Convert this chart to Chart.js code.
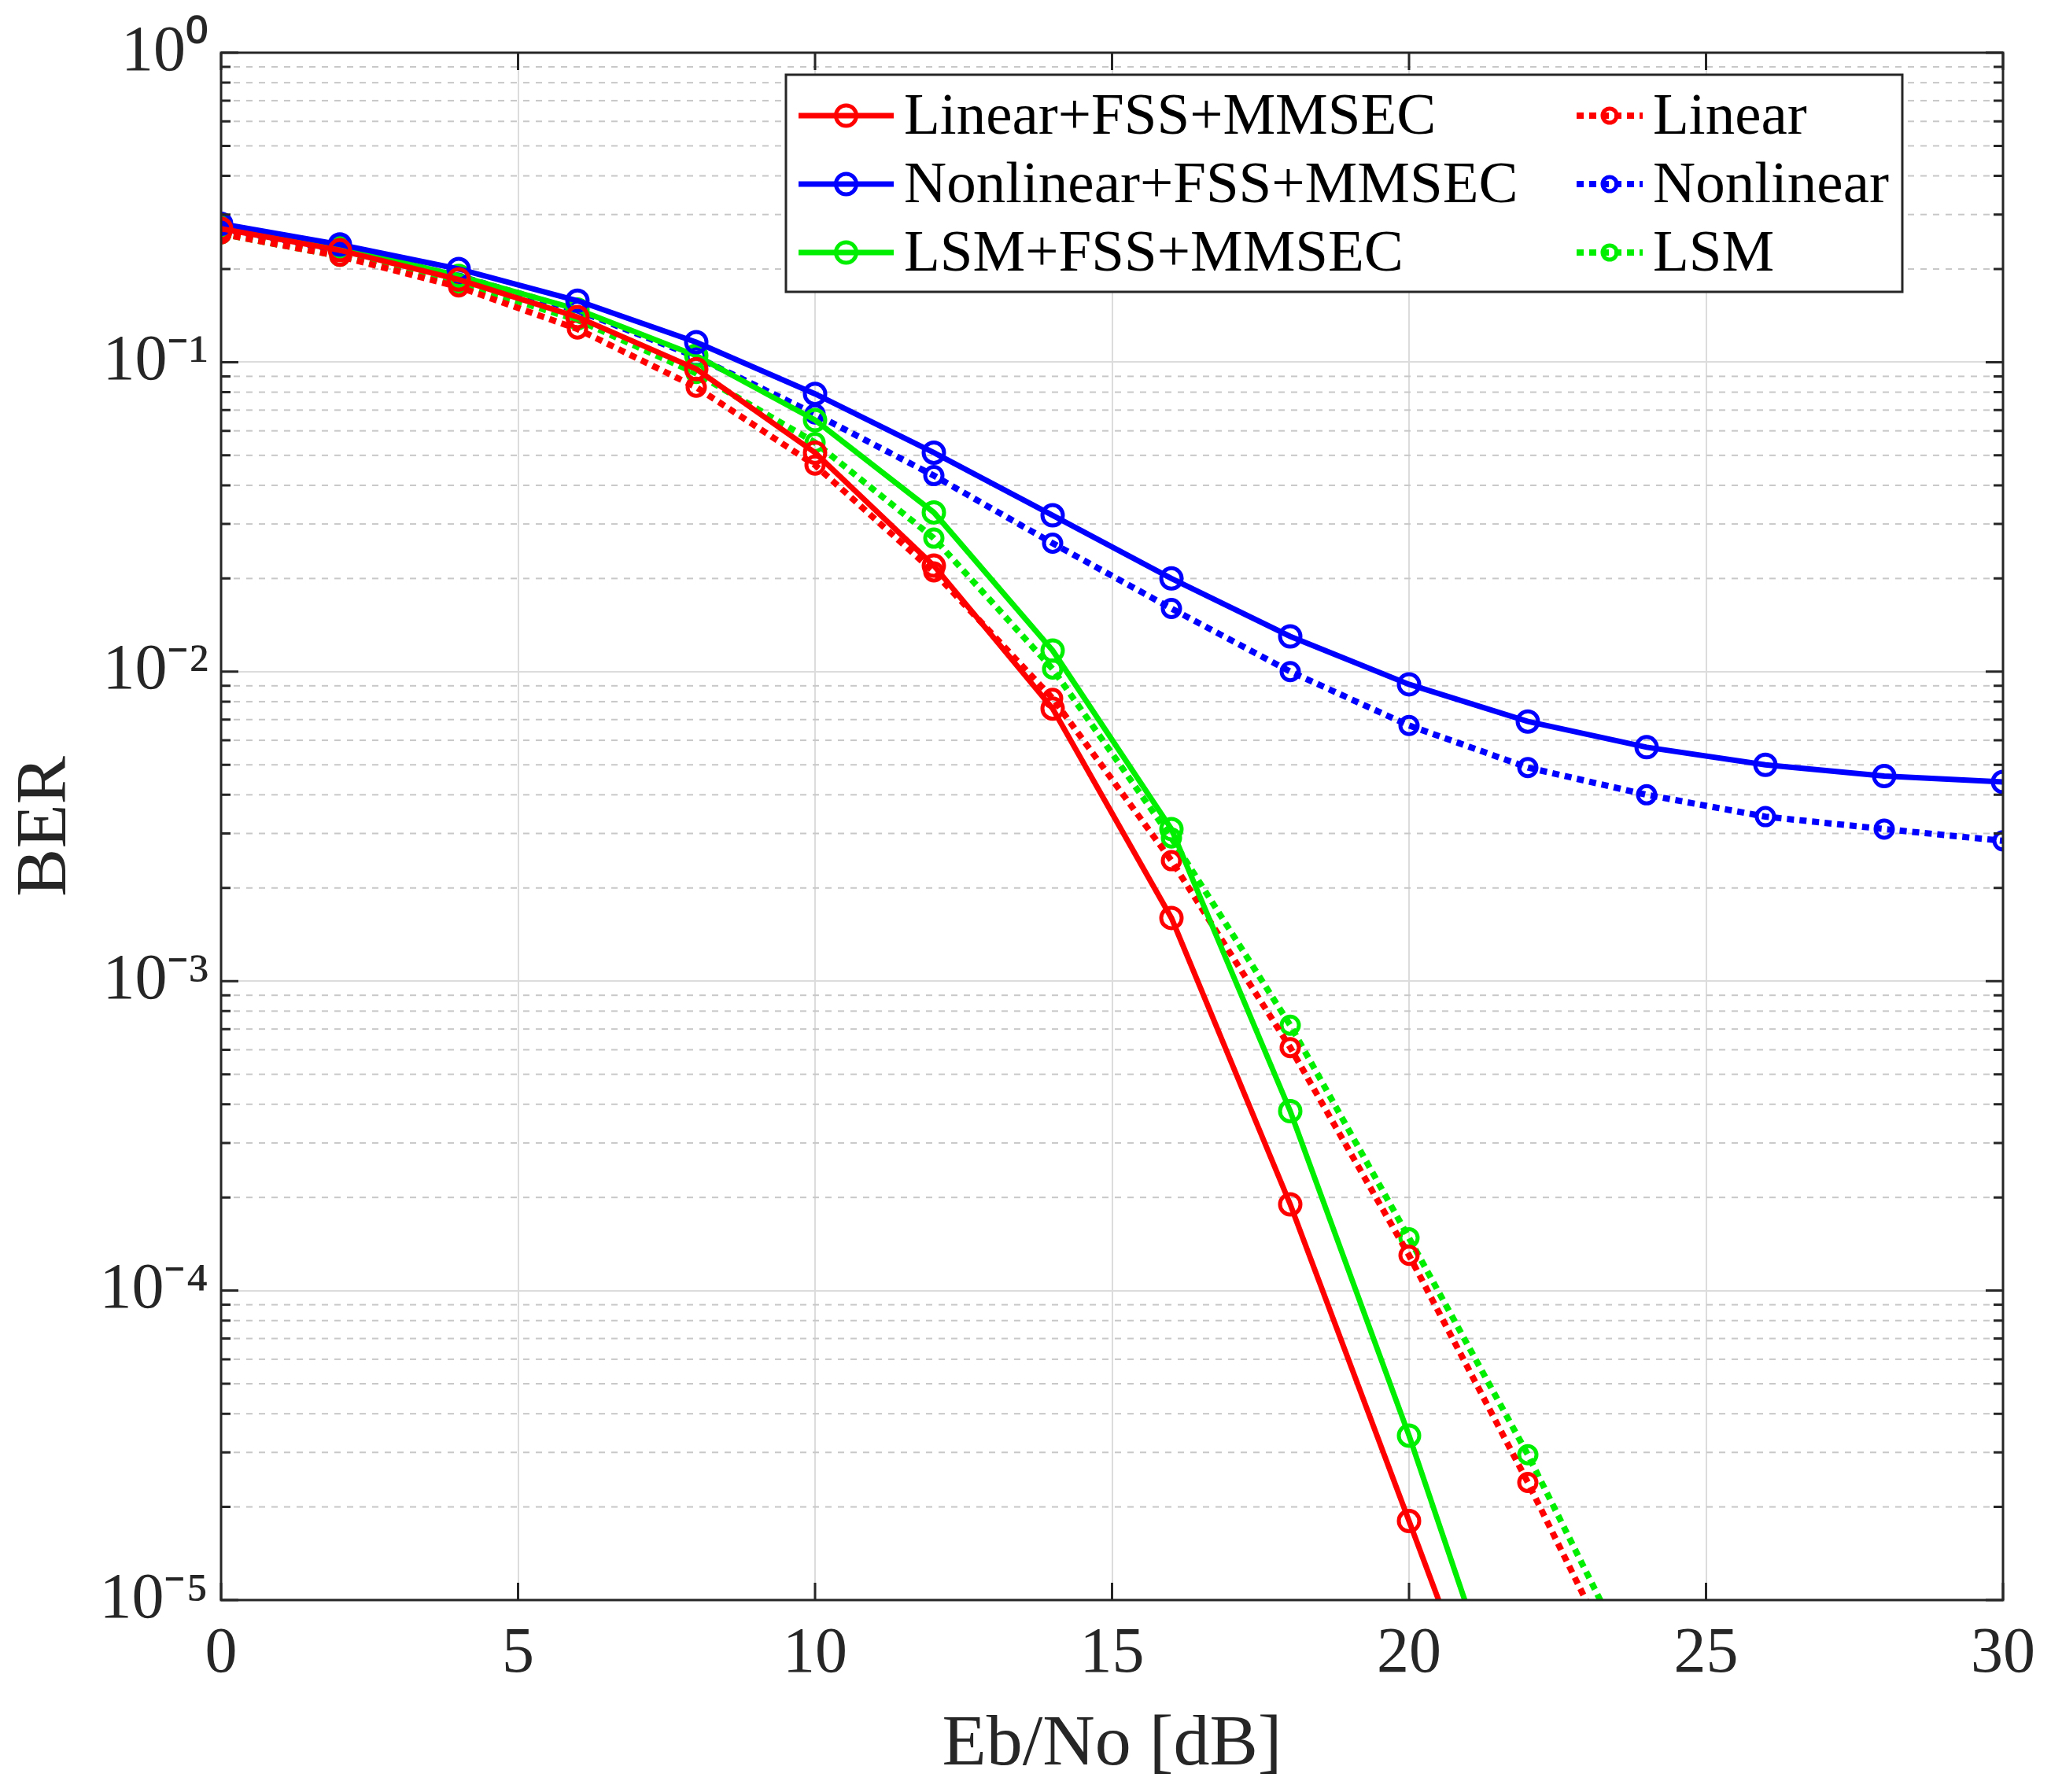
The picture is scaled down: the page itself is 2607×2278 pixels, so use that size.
<!DOCTYPE html>
<html><head><meta charset="utf-8">
<script src="https://cdn.jsdelivr.net/npm/chart.js@4/dist/chart.umd.min.js"></script>
<style>html,body{margin:0;padding:0;background:#fff}#wrap{width:2607px;height:2278px}</style>
</head><body><div id="wrap"><canvas id="c" width="2607" height="2278"></canvas></div>
<script>
const snr = [0,2,4,6,8,10,12,14,16,18,20,22,24,26,28,30];
const linFss   = [0.27,0.23,0.185,0.14,0.095,0.051,0.022,0.0076,0.0016,0.00019,0.000018,0.0000017];
const nlFss    = [0.28,0.24,0.2,0.158,0.116,0.079,0.051,0.032,0.02,0.013,0.0091,0.0069,0.0057,0.0050,0.0046,0.0044];
const lsmFss   = [0.275,0.235,0.19,0.148,0.105,0.065,0.0327,0.0117,0.0031,0.00038,0.000034,0.0000025];
const lin      = [0.26,0.22,0.175,0.128,0.083,0.0465,0.021,0.0082,0.00245,0.00061,0.00013,0.000024,0.000004];
const nl       = [0.27,0.23,0.19,0.147,0.104,0.068,0.043,0.026,0.016,0.010,0.0067,0.0049,0.0040,0.0034,0.0031,0.00284];
const lsm      = [0.26,0.22,0.18,0.137,0.092,0.055,0.027,0.0102,0.0029,0.00072,0.000148,0.0000295,0.000005];
const xTicks = [0,5,10,15,20,25,30];
const yLabels = {0:'10⁰','-1':'10⁻¹','-2':'10⁻²','-3':'10⁻³','-4':'10⁻⁴','-5':'10⁻⁵'};
const names = ['Linear+FSS+MMSEC','Nonlinear+FSS+MMSEC','LSM+FSS+MMSEC','Linear','Nonlinear','LSM'];
const RED='#ff0000', BLUE='#0000ff', GREEN='#00ee00';

function pts(a){return a.map((v,i)=>({x:snr[i],y:v}));}
function ds(label,data,color,dotted){
  return {label,data:pts(data),borderColor:color,backgroundColor:'rgba(0,0,0,0)',
    pointBorderColor:color,pointBackgroundColor:'rgba(0,0,0,0)',
    borderWidth:dotted?8:7,borderDash:dotted?[9,7]:[],pointRadius:dotted?11:13,pointBorderWidth:5,
    tension:0,clip:true};
}
const FONT='"Liberation Serif","Times New Roman",serif';

const minorGrid={id:'minorGrid',beforeDatasetsDraw(ch){
  const ctx=ch.ctx,a=ch.chartArea,y=ch.scales.y;
  ctx.save();ctx.strokeStyle='#c8c8c8';ctx.lineWidth=2;ctx.setLineDash([8,8]);
  for(let e=-5;e<0;e++){for(let m=2;m<=9;m++){const p=y.getPixelForValue(m*Math.pow(10,e));
    ctx.beginPath();ctx.moveTo(a.left,p);ctx.lineTo(a.right,p);ctx.stroke();}}
  ctx.restore();
}};
const frame={id:'frame',afterDatasetsDraw(ch){
  const ctx=ch.ctx,a=ch.chartArea,y=ch.scales.y,x=ch.scales.x;
  ctx.save();ctx.strokeStyle='#262626';ctx.lineWidth=3;ctx.setLineDash([]);
  ctx.strokeRect(a.left,a.top,a.right-a.left,a.bottom-a.top);
  for(let e=-5;e<=0;e++){for(let m=1;m<=9;m++){const v=m*Math.pow(10,e);if(v>1)break;const p=y.getPixelForValue(v);const L=m==1?22:12;
    ctx.beginPath();ctx.moveTo(a.left,p);ctx.lineTo(a.left+L,p);ctx.moveTo(a.right,p);ctx.lineTo(a.right-L,p);ctx.stroke();}}
  xTicks.forEach(t=>{const p=x.getPixelForValue(t);ctx.beginPath();ctx.moveTo(p,a.bottom);ctx.lineTo(p,a.bottom-22);ctx.moveTo(p,a.top);ctx.lineTo(p,a.top+22);ctx.stroke();});
  const L={l:999,t:95,r:2418,b:371};
  ctx.fillStyle='#fff';ctx.fillRect(L.l,L.t,L.r-L.l,L.b-L.t);
  ctx.strokeStyle='#262626';ctx.lineWidth=3;ctx.strokeRect(L.l,L.t,L.r-L.l,L.b-L.t);
  const rows=[147,234,321];
  const cols=[{x1:1015,x2:1136,tx:1149},{x1:2004,x2:2088,tx:2101}];
  ch.data.datasets.forEach((d,i)=>{const c=cols[Math.floor(i/3)],yy=rows[i%3];
    ctx.strokeStyle=d.borderColor;ctx.lineWidth=d.borderWidth;ctx.setLineDash(d.borderDash);
    ctx.beginPath();ctx.moveTo(c.x1,yy);ctx.lineTo(c.x2,yy);ctx.stroke();ctx.setLineDash([]);
    ctx.lineWidth=d.pointBorderWidth;ctx.beginPath();ctx.arc((c.x1+c.x2)/2,yy,i<3?13:9,0,Math.PI*2);ctx.stroke();
    ctx.fillStyle='#000';ctx.font='75px '+FONT;ctx.textBaseline='middle';ctx.fillText(d.label,c.tx,yy+3);});
  ctx.restore();
}};

new Chart(document.getElementById('c'),{type:'line',
  data:{datasets:[ds(names[0],linFss,RED,false),ds(names[1],nlFss,BLUE,false),ds(names[2],lsmFss,GREEN,false),
    ds(names[3],lin,RED,true),ds(names[4],nl,BLUE,true),ds(names[5],lsm,GREEN,true)]},
  options:{responsive:false,animation:false,devicePixelRatio:1,
    layout:{padding:{top:67,right:60,left:0,bottom:0}},
    plugins:{legend:{display:false},tooltip:{enabled:false}},
    scales:{
      x:{type:'linear',min:0,max:30,afterBuildTicks(s){s.ticks=xTicks.map(v=>({value:v}));},
        afterFit(s){s.height=244;},
        grid:{color:'#dcdcdc',lineWidth:2,drawTicks:false},border:{display:false},
        ticks:{color:'#262626',font:{family:FONT,size:82},padding:20,maxRotation:0},
        title:{display:true,text:'Eb/No [dB]',color:'#262626',font:{family:FONT,size:92},padding:{top:0}}},
      y:{type:'logarithmic',min:1e-5,max:1,
        afterBuildTicks(s){s.ticks=[-5,-4,-3,-2,-1,0].map(e=>({value:Math.pow(10,e)}));},
        afterFit(s){s.width=281;},
        grid:{color:'#dcdcdc',lineWidth:2,drawTicks:false},border:{display:false},
        ticks:{color:'#262626',font:{family:FONT,size:82},padding:16,
          callback(v){return yLabels[Math.round(Math.log10(v))];}},
        title:{display:true,text:'BER',color:'#262626',font:{family:FONT,size:92},padding:{bottom:8}}}
    }},
  plugins:[minorGrid,frame]});
</script></body></html>
